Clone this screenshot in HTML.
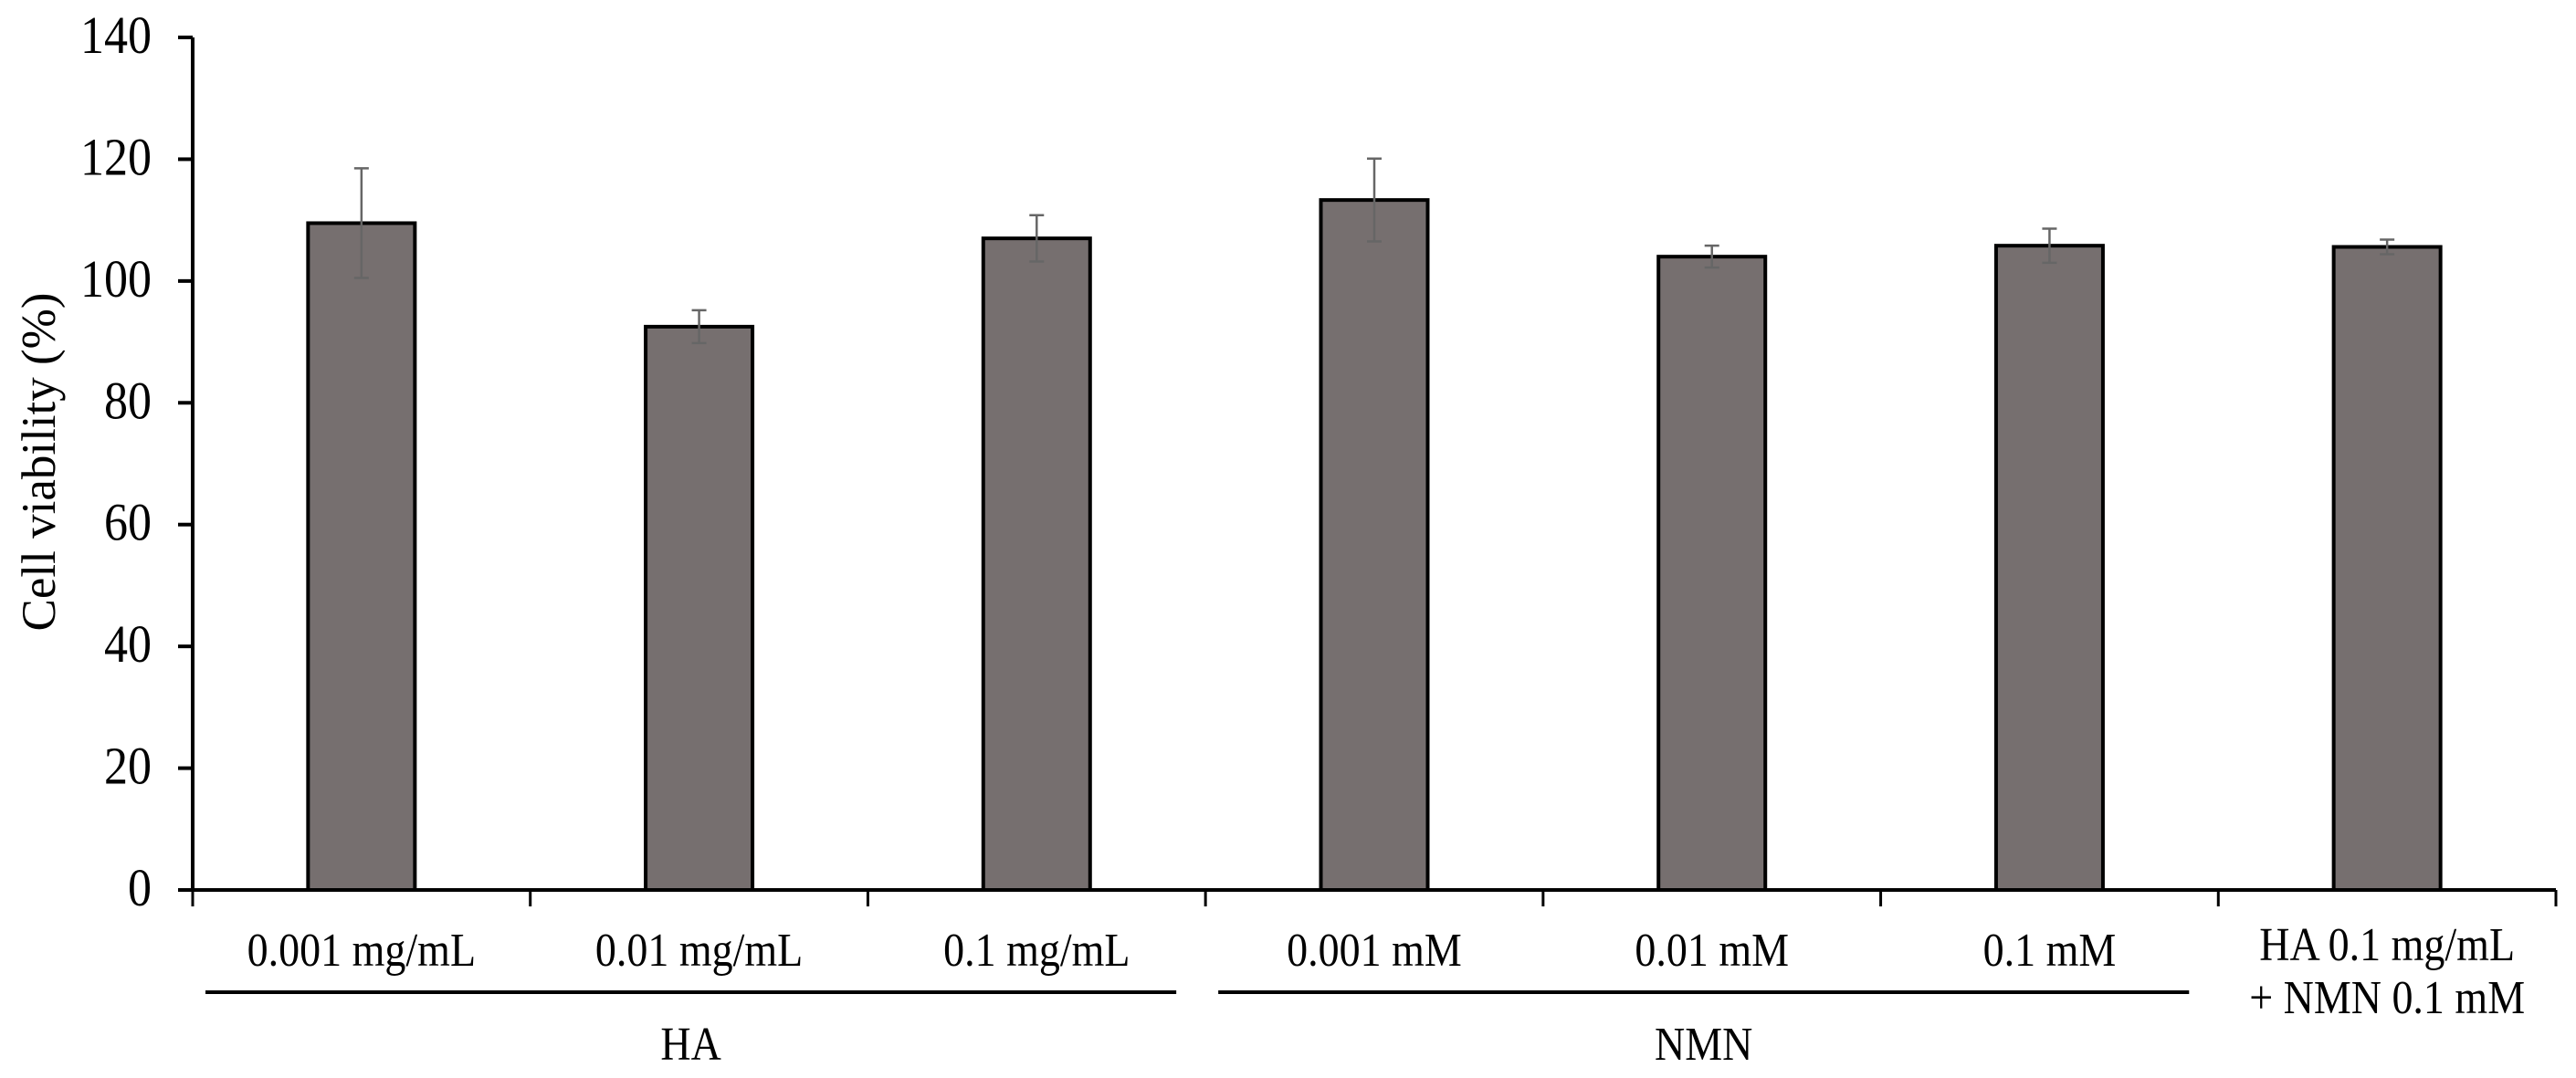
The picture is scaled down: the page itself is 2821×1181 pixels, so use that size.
<!DOCTYPE html>
<html><head><meta charset="utf-8"><style>
html,body{margin:0;padding:0;background:#fff;}
svg{display:block;font-family:"Liberation Serif",serif;}
</style></head><body>
<svg id="chart" width="2821" height="1181" viewBox="0 0 2821 1181" xmlns="http://www.w3.org/2000/svg">
<g id="plot"></g>
</svg>
<script>
const categories = ["0.001 mg/mL","0.01 mg/mL","0.1 mg/mL","0.001 mM","0.01 mM","0.1 mM","HA 0.1 mg/mL|+ NMN 0.1 mM"];
const values = [109.5, 92.5, 107, 113.3, 104, 105.8, 105.6];
const errors = [9, 2.7, 3.8, 6.8, 1.8, 2.8, 1.2];
const yTicks = [0, 20, 40, 60, 80, 100, 120, 140];
const groups = [{label:"HA", from:0, to:2}, {label:"NMN", from:3, to:5}];

const NS = "http://www.w3.org/2000/svg";
const g = document.getElementById("plot");
const x0 = 211, x1 = 2799, yTop = 41, yBot = 975, yMax = 140;
const band = (x1 - x0) / categories.length;
const y = v => yBot - (v / yMax) * (yBot - yTop);
const xc = i => x0 + band * (i + 0.5);
function mk(tag, attrs, parent) {
  const e = document.createElementNS(NS, tag);
  for (const k in attrs) e.setAttribute(k, attrs[k]);
  (parent || g).appendChild(e);
  return e;
}
values.forEach((v, i) => {
  const bw = 117;
  const r = mk("rect", {x: xc(i) - bw/2, y: y(v), width: bw, height: yBot - y(v), fill: "#766f6f", stroke: "#000", "stroke-width": 4});
  
  
  const eg = mk("g", {stroke: "#666", "stroke-width": 2.5});
  
  
  const hi = y(v + errors[i]), lo = y(v - errors[i]);
  mk("line", {x1: xc(i), x2: xc(i), y1: hi, y2: lo}, eg);
  mk("line", {x1: xc(i)-8, x2: xc(i)+8, y1: hi, y2: hi}, eg);
  mk("line", {x1: xc(i)-8, x2: xc(i)+8, y1: lo, y2: lo}, eg);
});
const ya = mk("g", {});


mk("line", {x1: x0, x2: x0, y1: yTop, y2: yBot, stroke: "#000", "stroke-width": 4}, ya);
yTicks.forEach(t => {
  mk("line", {x1: x0 - 16, x2: x0, y1: y(t), y2: y(t), stroke: "#000", "stroke-width": 4}, ya);
  const tx = mk("text", {x: 0, y: 0, "text-anchor": "end", "font-size": 52, transform: "translate(166," + (y(t) + 17) + ") scale(1,1.12)"}, ya);
  tx.textContent = t;
  
  
});
const yt = mk("text", {x: 0, y: 0, "text-anchor": "middle", "font-size": 53, transform: "translate(60,506) rotate(-90)"});
yt.textContent = "Cell viability (%)";


const xa = mk("g", {});


mk("line", {x1: x0 - 16, x2: x1, y1: yBot, y2: yBot, stroke: "#000", "stroke-width": 4}, xa);
for (let i = 0; i <= categories.length; i++) {
  const xx = x0 + band * i;
  mk("line", {x1: xx, x2: xx, y1: yBot, y2: yBot + 18, stroke: "#000", "stroke-width": 3}, xa);
}
categories.forEach((c, i) => {
  const lines = c.split("|");
  lines.forEach((l, j) => {
    const by = (lines.length > 1 ? 1052 : 1058) + j * 58;
    const t = mk("text", {x: 0, y: 0, "text-anchor": "middle", "font-size": 46, transform: "translate(" + xc(i) + "," + by + ") scale(1,1.12)"}, xa);
    t.textContent = l;
    
    
  });
});
groups.forEach(gr => {
  const a = x0 + band * gr.from + 14, b = x0 + band * (gr.to + 1) - 32;
  const ln = mk("line", {x1: a, x2: b, y1: 1087, y2: 1087, stroke: "#000", "stroke-width": 4});
  
  
  const t = mk("text", {x: 0, y: 0, "text-anchor": "middle", "font-size": 46, transform: "translate(" + ((a + b) / 2) + ",1161) scale(1,1.12)"});
  t.textContent = gr.label;
  
  
});
</script>
</body></html>
